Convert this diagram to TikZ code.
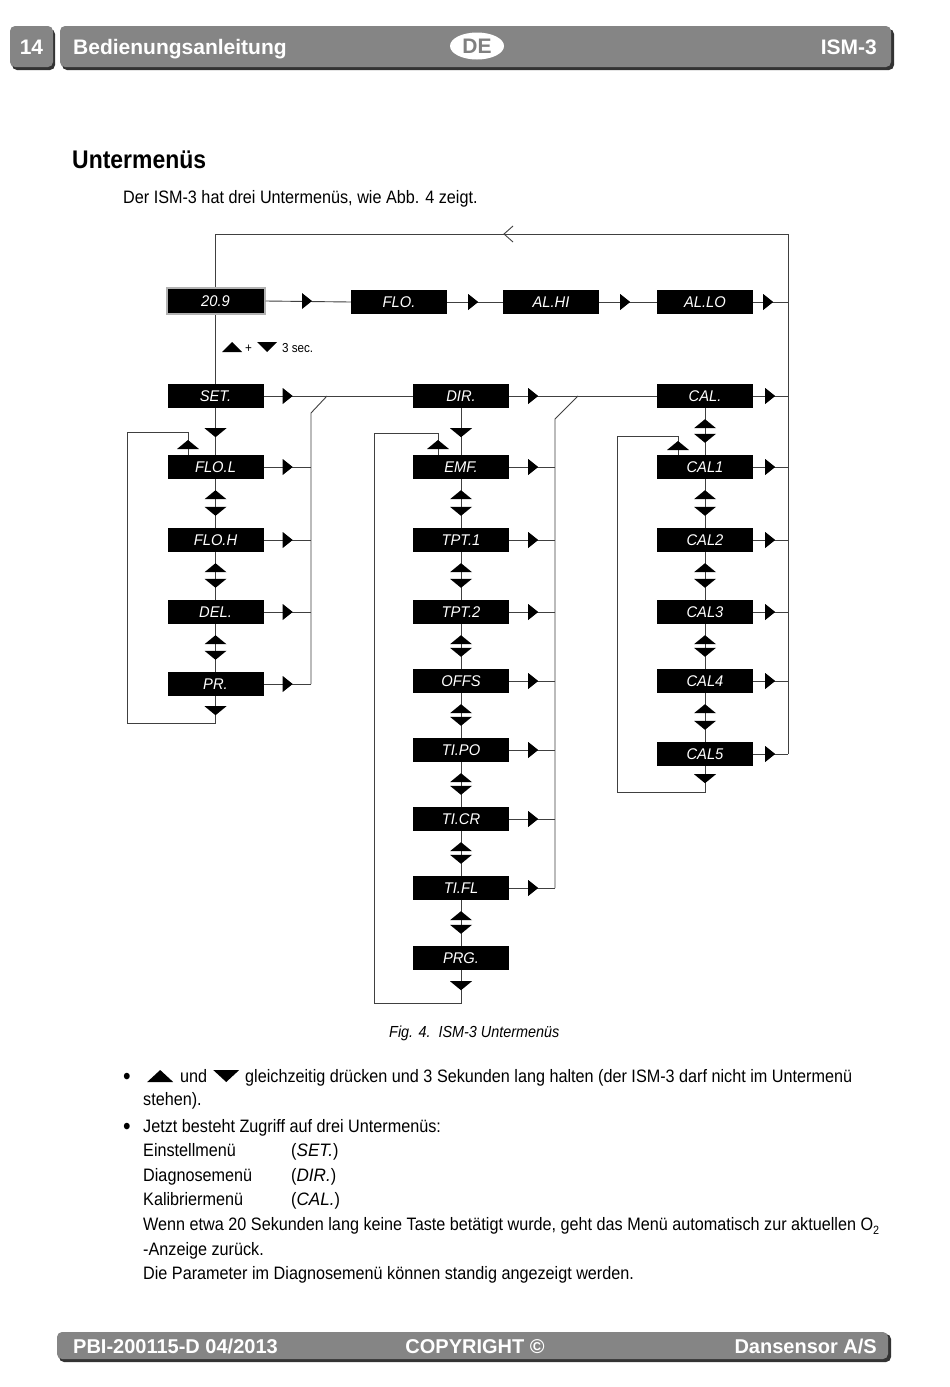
\documentclass[tikz,border=0pt]{standalone}
\usepackage{fontspec}
\setmainfont{Liberation Sans}
\newfontfamily\bodyfont[FakeStretch=0.9]{Liberation Sans}
\newfontfamily\barfont{Liberation Sans}
\newfontfamily\lcdfont[FakeStretch=0.95]{Liberation Sans}
\usetikzlibrary{shapes.geometric}

\newcommand{\lcd}[1]{{\lcdfont\itshape #1}}
\newcommand{\keyup}[2]{\tikz[baseline=0pt]\fill (0pt,0pt) -- (#1,0pt) -- ({#1/2},#2) -- cycle;}
\newcommand{\keydown}[2]{\tikz[baseline=0pt]\fill (0pt,#2) -- (#1,#2) -- ({#1/2},0pt) -- cycle;}

\tikzset{
	wire/.style={draw=black!75, line width=0.9pt},
	lcdbox/.style={fill=black, text=white, minimum width=96, minimum height=24, inner sep=0pt, font=\lcdfont\itshape\fontsize{15.5}{15.5}\selectfont},
	mainbox/.style={lcdbox, draw=black!30, line width=2pt, minimum width=98, minimum height=26},
	rtip/.pic={\fill (0,0) -- (-10,-8) -- (-10,8) -- cycle;},
	utip/.pic={\fill (0,0) -- (-11,9) -- (11,9) -- cycle;},
	dtip/.pic={\fill (0,0) -- (-11,-9) -- (11,-9) -- cycle;},
	ltip/.pic={\draw[black!75, line width=0.9pt] (9,-8) -- (0,0) -- (9,8);},
	txt/.style={anchor=base west, inner sep=0pt, font=\bodyfont\fontsize{18}{18}\selectfont},
	bartxt/.style={inner sep=0pt, text=white, font=\barfont\bfseries\fontsize{21}{21}\selectfont},
	foottxt/.style={bartxt, font=\barfont\bfseries\fontsize{20}{20}\selectfont},
	bar/.style={fill=black!48, rounded corners=5pt},
	barshadow/.style={fill=black!80, rounded corners=5pt},
}

\begin{document}
\begin{tikzpicture}[x=1pt, y=-1pt]
	\useasboundingbox (0,0) rectangle (950,1387);
	\fill[white] (0,0) rectangle (950,1387);
	% header
	\fill[barshadow] (12,29) rectangle (55,70);
	\fill[bar] (10,26) rectangle (53,67);
	\fill[barshadow] (62,29) rectangle (894,70);
	\fill[bar] (60,26) rectangle (891,67);
	\node[bartxt, anchor=base] (page) at (31.5,54) {14};
	\node[bartxt, anchor=base west] (hdleft) at (73,54) {Bedienungsanleitung};
	\node[ellipse, fill=white, minimum width=54, minimum height=27, inner sep=0pt] (lang) at (477,46) {};
	\node[bartxt, anchor=base, text=black!50] (langtxt) at (477,53.5) {DE};
	\node[bartxt, anchor=base east] (hdright) at (877,54) {ISM-3};
	%
	\node[txt, font=\bodyfont\bfseries\fontsize{25.5}{26}\selectfont] (title) at (72,168) {Untermenüs};
	\node[txt] (intro) at (123,203) {Der ISM-3 hat drei Untermenüs, wie Abb. 4 zeigt.};
	% top row
	\node[mainbox] (n209) at (215.5,301) {20.9};
	\node[lcdbox] (flo) at (399,302) {FLO.};
	\node[lcdbox] (alhi) at (551,302) {AL.HI};
	\node[lcdbox] (allo) at (705,302) {AL.LO};
	% set column
	\node[lcdbox] (set) at (215.5,396) {SET.};
	\node[lcdbox] (floL) at (215.5,467) {FLO.L};
	\node[lcdbox] (floH) at (215.5,540) {FLO.H};
	\node[lcdbox] (del) at (215.5,612) {DEL.};
	\node[lcdbox] (pr) at (215.5,684) {PR.};
	% dir column
	\node[lcdbox] (dir) at (461,396) {DIR.};
	\node[lcdbox] (emf) at (461,467) {EMF.};
	\node[lcdbox] (tpt1) at (461,540) {TPT.1};
	\node[lcdbox] (tpt2) at (461,612) {TPT.2};
	\node[lcdbox] (offs) at (461,681) {OFFS};
	\node[lcdbox] (tipo) at (461,750) {TI.PO};
	\node[lcdbox] (tica) at (461,819) {TI.CR};
	\node[lcdbox] (tifl) at (461,888) {TI.FL};
	\node[lcdbox] (prg) at (461,958) {PRG.};
	% cal column
	\node[lcdbox] (cal) at (705,396) {CAL.};
	\node[lcdbox] (cal1) at (705,467) {CAL1};
	\node[lcdbox] (cal2) at (705,540) {CAL2};
	\node[lcdbox] (cal3) at (705,612) {CAL3};
	\node[lcdbox] (cal4) at (705,681) {CAL4};
	\node[lcdbox] (cal5) at (705,754) {CAL5};
	%
	\coordinate (calbus) at (788,754);
	\coordinate (ctop) at (788,234);
	\coordinate (setsw) at (327,396);
	\coordinate (setbus) at (311,413);
	\coordinate (dirsw) at (578,396);
	\coordinate (dirbus) at (555,419);
	%
	\draw[wire] (calbus) -- (ctop) -- (ctop -| n209) -- (n209.north);
	\pic at (504,234) {ltip};
	\draw[wire] (n209.east) -- (flo.west);
	\pic at (312,301) {rtip};
	\draw[wire] (flo.east) -- (alhi.west);
	\pic at ([xshift=31pt]flo.east) {rtip};
	\draw[wire] (alhi.east) -- (allo.west);
	\pic at ([xshift=31pt]alhi.east) {rtip};
	\draw[wire] (allo.east) -- (allo.east -| calbus);
	\pic at ([xshift=20pt]allo.east) {rtip};
	\draw[wire] (n209.south) -- (set.north);
	\node[anchor=base west, inner sep=0pt, font=\bodyfont\fontsize{13}{13}\selectfont] (hold) at (222,352)
		{\keyup{20pt}{10pt}\hspace{3pt}+\hspace{5pt}\keydown{20pt}{10pt}\hspace{5pt}3 sec.};
	% menu rows
	\draw[wire] (set.east) -- (dir.west);
	\pic at ([xshift=29pt]set.east) {rtip};
	\draw[wire] (setsw) -- (setbus) -- (setbus |- pr.east);
	\draw[wire] (dir.east) -- (cal.west);
	\pic at ([xshift=29pt]dir.east) {rtip};
	\draw[wire] (dirsw) -- (dirbus) -- (dirbus |- tifl.east);
	\foreach \b in {floL,floH,del,pr} {
		\draw[wire] (\b.east) -- (\b.east -| setbus);
		\pic at ([xshift=29pt]\b.east) {rtip};
	}
	\foreach \b in {emf,tpt1,tpt2,offs,tipo,tica,tifl} {
		\draw[wire] (\b.east) -- (\b.east -| dirbus);
		\pic at ([xshift=29pt]\b.east) {rtip};
	}
	\foreach \b in {cal,cal1,cal2,cal3,cal4,cal5} {
		\draw[wire] (\b.east) -- (\b.east -| calbus);
		\pic at ([xshift=22pt]\b.east) {rtip};
	}
	% up and down
	\foreach \a/\b in {floL/floH,floH/del,del/pr,emf/tpt1,tpt1/tpt2,tpt2/offs,offs/tipo,tipo/tica,tica/tifl,tifl/prg,cal/cal1,cal1/cal2,cal2/cal3,cal3/cal4,cal4/cal5} {
		\draw[wire] (\a.south) -- (\b.north);
		\pic at ([yshift=-11pt]\a.south) {utip};
		\pic at ([yshift=12pt]\b.north) {dtip};
	}
	\draw[wire] (set.south) -- (floL.north);
	\pic at ([yshift=-29pt]set.south) {dtip};
	\draw[wire] (dir.south) -- (emf.north);
	\pic at ([yshift=-29pt]dir.south) {dtip};
	% loops back
	\draw[wire] (pr.south) |- (127,723) |- (188,432) -- ([xshift=-27.5pt]floL.north);
	\pic at ([yshift=-19pt]pr.south) {dtip};
	\pic at (188,440) {utip};
	\draw[wire] (prg.south) |- (374,1003) |- (438,433) -- ([xshift=-23pt]emf.north);
	\pic at ([yshift=-20pt]prg.south) {dtip};
	\pic at (438,440) {utip};
	\draw[wire] (cal5.south) |- (617,792) |- (678,436) -- ([xshift=-27pt]cal1.north);
	\pic at ([yshift=-17pt]cal5.south) {dtip};
	\pic at (678,441) {utip};
	%
	\node[txt, font=\bodyfont\itshape\fontsize{16}{16}\selectfont] (caption) at (389,1037) {Fig. 4.\ \ ISM-3 Untermenüs};
	% text below
	\node[txt, font=\bodyfont\fontsize{24}{24}\selectfont] (bul1) at (123,1084) {•};
	\node[txt] (line1) at (147,1082) {\keyup{26pt}{12pt}\hspace{7pt}und\hspace{6pt}\keydown{26pt}{12pt}\hspace{6pt}gleichzeitig drücken und 3 Sekunden lang halten (der ISM-3 darf nicht im Untermenü};
	\node[txt] (line2) at (143,1105) {stehen).};
	\node[txt, font=\bodyfont\fontsize{24}{24}\selectfont] (bul2) at (123,1134) {•};
	\node[txt] (line3) at (143,1132) {Jetzt besteht Zugriff auf drei Untermenüs:};
	\node[txt] (line4) at (143,1156) {Einstellmenü};
	\node[txt] (code4) at (291,1156) {(\lcd{SET.})};
	\node[txt] (line5) at (143,1181) {Diagnosemenü};
	\node[txt] (code5) at (291,1181) {(\lcd{DIR.})};
	\node[txt] (line6) at (143,1205) {Kalibriermenü};
	\node[txt] (code6) at (291,1205) {(\lcd{CAL.})};
	\node[txt] (line7) at (143,1230) {Wenn etwa 20 Sekunden lang keine Taste betätigt wurde, geht das Menü automatisch zur aktuellen O\raisebox{-4pt}{\fontsize{12}{12}\selectfont 2}};
	\node[txt] (line8) at (143,1255) {-Anzeige zurück.};
	\node[txt] (line9) at (143,1279) {Die Parameter im Diagnosemenü können standig angezeigt werden.};
	% footer
	\fill[barshadow] (59,1334) rectangle (891,1362);
	\fill[bar] (57,1332) rectangle (888,1359);
	\node[foottxt, anchor=base west] (ftleft) at (73,1353) {PBI-200115-D 04/2013};
	\node[foottxt, anchor=base] (ftmid) at (475,1353) {COPYRIGHT ©};
	\node[foottxt, anchor=base east] (ftright) at (877,1353) {Dansensor A/S};
\end{tikzpicture}
\end{document}
